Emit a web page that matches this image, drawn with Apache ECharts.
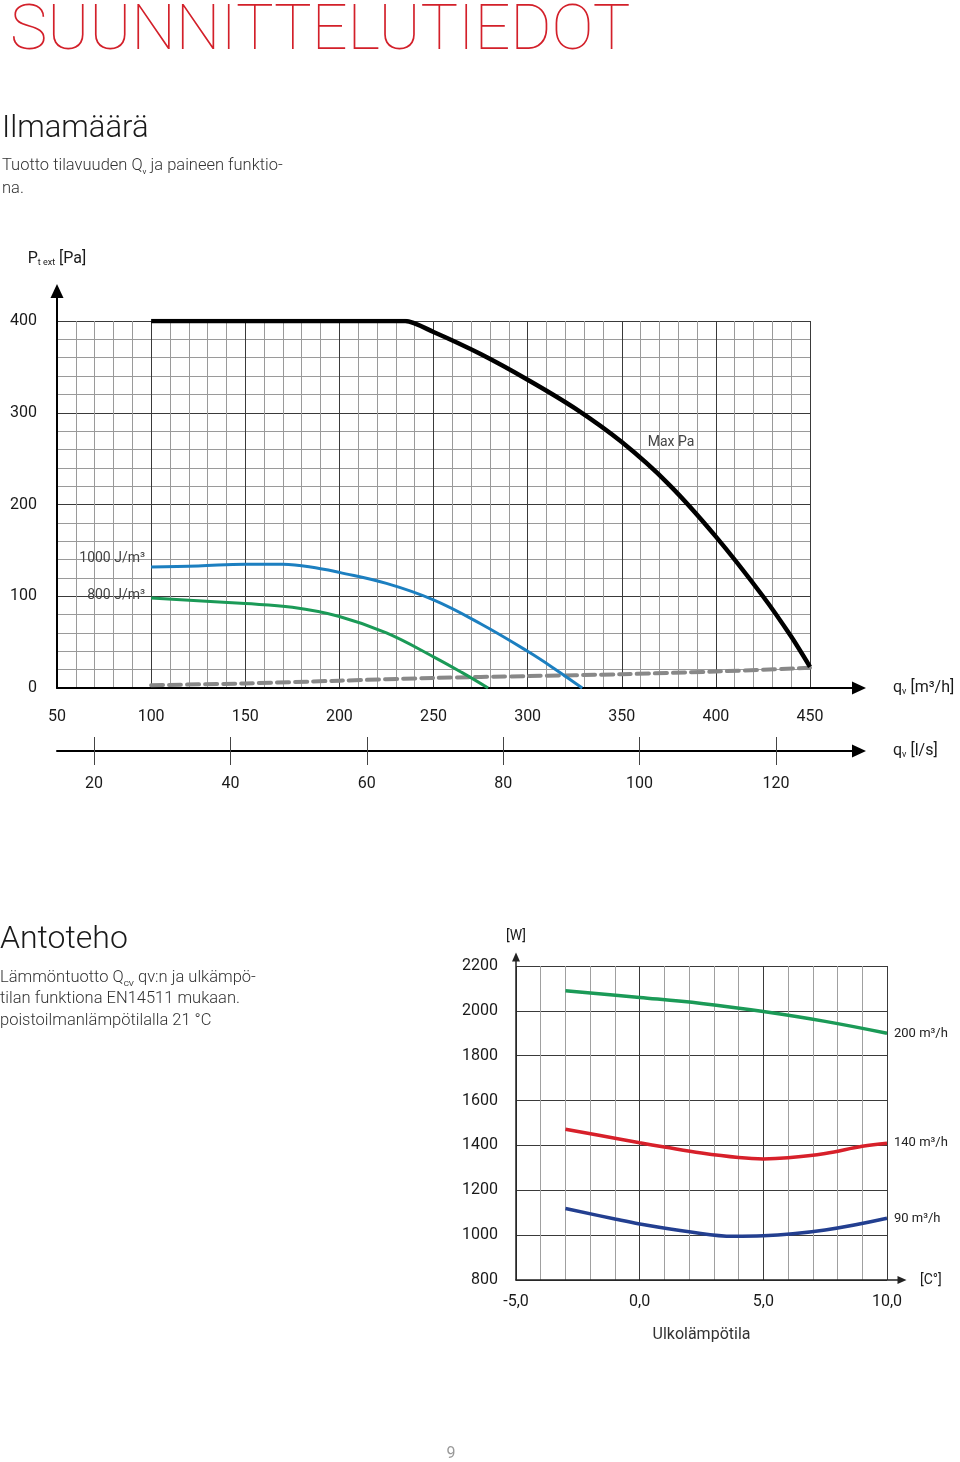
<!DOCTYPE html>
<html><head><meta charset="utf-8">
<script src="https://cdn.jsdelivr.net/npm/echarts@6/dist/echarts.min.js"></script>
<style>html,body{margin:0;padding:0;background:#fff}#c{width:960px;height:1462px}</style>
</head><body><div id="c"></div>
<script>
// ---- Ilmamäärä (q_v m³/h vs. P_t ext Pa) ----
const maxPaQ   = [100, 235, 250, 275, 300, 325, 350, 375, 400, 425, 440, 450];
const maxPaP   = [400, 400, 388, 364, 336, 305, 268, 222, 165, 100, 56, 23];
const sfp1000Q = [100, 125, 150, 170, 190, 200, 225, 250, 275, 300, 315, 329];
const sfp1000P = [132, 133, 135, 135, 130, 126, 114, 96, 70, 40, 20, 0];
const sfp800Q  = [100, 150, 175, 200, 225, 250, 265, 279];
const sfp800P  = [98, 92, 88, 78, 60, 34, 17, 0];
const minQ     = [100, 150, 200, 250, 300, 350, 400, 450];
const minP     = [3, 5, 8, 11, 13, 15, 18, 22];
const lsTicks  = [20, 40, 60, 80, 100, 120];
const seriesLabels1 = ['Max Pa', '1000 J/m³', '800 J/m³'];

// ---- Antoteho (outdoor temp °C vs. W) ----
const t200 = [-3, 0, 2.5, 5, 7.5, 10];
const w200 = [2090, 2060, 2033, 1997, 1953, 1900];
const t140 = [-3, -1, 0, 1, 2.5, 4, 5, 6, 7.5, 9, 10];
const w140 = [1472, 1432, 1412, 1393, 1366, 1346, 1340, 1345, 1364, 1396, 1410];
const t90  = [-3, -1, 0, 2, 3.8, 5, 7.5, 10];
const w90  = [1119, 1072, 1050, 1015, 995, 997, 1023, 1075];
const seriesLabels2 = ['200 m³/h', '140 m³/h', '90 m³/h'];

const F = 'Roboto, "Noto Sans", "DejaVu Sans", sans-serif';
const pairs = (xs, ys) => xs.map((x, i) => [x, ys[i]]);
const lab = { fontFamily: F, fontSize: 16, color: '#1a1a1a' };
const subRich = { sub: { fontFamily: F, fontSize: 9, color: '#1a1a1a', verticalAlign: 'bottom', lineHeight: 12 } };
const plain = v => String(v);

const chart = echarts.init(document.getElementById('c'), null, { renderer: 'canvas' });

function withLabel(data, idx, label) {
  return data.map((d, i) => i === idx ? { value: d, label: Object.assign({ show: true }, label) } : d);
}

const option = {
  animation: false,
  backgroundColor: '#fff',
  textStyle: { fontFamily: F },
  graphic: [
    { type: 'text', x: 10, y: 33, style: { text: 'SUUNNITTELUTIEDOT', fontFamily: F, fontSize: 63, fontWeight: 100, fill: '#d3202a', verticalAlign: 'middle' } },
    { type: 'text', x: 2, y: 129, style: { text: 'Ilmamäärä', fontFamily: F, fontSize: 31, fontWeight: 300, fill: '#1a1a1a', verticalAlign: 'middle' } },
    { type: 'text', x: 2, y: 166, style: { text: 'Tuotto tilavuuden Q{s|v} ja paineen funktio-', fontFamily: F, fontSize: 16.5, fontWeight: 300, fill: '#333', verticalAlign: 'middle', lineHeight: 20,
        rich: { s: { fontFamily: F, fontSize: 8, fill: '#333', verticalAlign: 'bottom', lineHeight: 11 } } } },
    { type: 'text', x: 2, y: 189, style: { text: 'na.', fontFamily: F, fontSize: 16.5, fontWeight: 300, fill: '#333', verticalAlign: 'middle' } },
    { type: 'text', x: 0, y: 940, style: { text: 'Antoteho', fontFamily: F, fontSize: 32, fontWeight: 300, fill: '#1a1a1a', verticalAlign: 'middle' } },
    { type: 'text', x: 0, y: 978, style: { text: 'Lämmöntuotto Q{s|CV} qv:n ja ulkämpö-', fontFamily: F, fontSize: 16.5, fontWeight: 300, fill: '#333', verticalAlign: 'middle', lineHeight: 20,
        rich: { s: { fontFamily: F, fontSize: 8, fill: '#333', verticalAlign: 'bottom', lineHeight: 11 } } } },
    { type: 'text', x: 0, y: 999, style: { text: 'tilan funktiona EN14511 mukaan.', fontFamily: F, fontSize: 16.5, fontWeight: 300, fill: '#333', verticalAlign: 'middle' } },
    { type: 'text', x: 0, y: 1021, style: { text: 'poistoilmanlämpötilalla 21 °C', fontFamily: F, fontSize: 16.5, fontWeight: 300, fill: '#333', verticalAlign: 'middle' } },
    { type: 'text', x: 451, y: 1454, style: { text: '9', fontFamily: F, fontSize: 16, fill: '#999', align: 'center', verticalAlign: 'middle' } }
  ],
  grid: [
    { left: 57, top: 321, width: 753, height: 367 },
    { left: 57, top: 291, width: 802, height: 397 },
    { left: 516, top: 966, width: 371, height: 314 },
    { left: 516, top: 957, width: 386, height: 323 }
  ],
  xAxis: [
    { gridIndex: 0, type: 'value', min: 50, max: 450, interval: 50, position: 'bottom',
      axisLine: { show: false, onZero: false }, axisTick: { show: false },
      axisLabel: Object.assign({ margin: 21, formatter: plain }, lab),
      splitLine: { show: true, lineStyle: { color: '#3a3a3a', width: 1 } },
      minorTick: { show: false, splitNumber: 5 },
      minorSplitLine: { show: true, lineStyle: { color: '#9a9a9a', width: 1 } } },
    { gridIndex: 1, type: 'value', min: 0, max: 1, position: 'bottom',
      axisLine: { show: true, onZero: false, symbol: ['none', 'triangle'], symbolSize: [13, 14], lineStyle: { color: '#000', width: 2 } },
      axisTick: { show: false }, axisLabel: { show: false }, splitLine: { show: false },
      name: 'q{sub|v} [m³/h]', nameLocation: 'end', nameGap: 34,
      nameTextStyle: Object.assign({ rich: subRich }, lab) },
    { gridIndex: 1, type: 'value', min: 14.57, max: 132.17, position: 'bottom', offset: 63,
      axisLine: { show: true, onZero: false, symbol: ['none', 'triangle'], symbolSize: [13, 14], lineStyle: { color: '#000', width: 2 } },
      axisTick: { show: true, customValues: lsTicks, length: 14, lineStyle: { color: '#444', width: 1 } },
      axisLabel: Object.assign({ margin: 25, customValues: lsTicks, formatter: plain }, lab),
      splitLine: { show: false },
      name: 'q{sub|v} [l/s]', nameLocation: 'end', nameGap: 34,
      nameTextStyle: Object.assign({ rich: subRich }, lab) },
    { gridIndex: 1, type: 'value', min: 14.57, max: 132.17, position: 'bottom', offset: 63,
      axisLine: { show: false, onZero: false },
      axisTick: { show: true, inside: true, customValues: lsTicks, length: 14, lineStyle: { color: '#444', width: 1 } },
      axisLabel: { show: false }, splitLine: { show: false } },
    { gridIndex: 2, type: 'value', min: -5, max: 10, interval: 5, position: 'bottom',
      axisLine: { show: false, onZero: false }, axisTick: { show: false },
      axisLabel: Object.assign({ margin: 14, formatter: v => v.toFixed(1).replace('.', ',') }, lab),
      splitLine: { show: true, lineStyle: { color: '#3a3a3a', width: 1 } },
      minorTick: { show: false, splitNumber: 5 },
      minorSplitLine: { show: true, lineStyle: { color: '#a0a0a0', width: 1 } },
      name: 'Ulkolämpötila', nameLocation: 'middle', nameGap: 47,
      nameTextStyle: { fontFamily: F, fontSize: 16, color: '#333' } },
    { gridIndex: 3, type: 'value', min: 0, max: 1, position: 'bottom',
      axisLine: { show: true, onZero: false, symbol: ['none', 'triangle'], symbolSize: [8, 9], lineStyle: { color: '#222', width: 1.5 } },
      axisTick: { show: false }, axisLabel: { show: false }, splitLine: { show: false },
      name: '[C°]', nameLocation: 'end', nameGap: 18,
      nameTextStyle: { fontFamily: F, fontSize: 14, color: '#1a1a1a' } }
  ],
  yAxis: [
    { gridIndex: 0, type: 'value', min: 0, max: 400, interval: 100,
      axisLine: { show: false, onZero: false }, axisTick: { show: false },
      axisLabel: Object.assign({ margin: 20, formatter: plain }, lab),
      splitLine: { show: true, lineStyle: { color: '#3a3a3a', width: 1 } },
      minorTick: { show: false, splitNumber: 5 },
      minorSplitLine: { show: true, lineStyle: { color: '#9a9a9a', width: 1 } } },
    { gridIndex: 1, type: 'value', min: 0, max: 1,
      axisLine: { show: true, onZero: false, symbol: ['none', 'triangle'], symbolSize: [13, 14], lineStyle: { color: '#000', width: 2 } },
      axisTick: { show: false }, axisLabel: { show: false }, splitLine: { show: false },
      name: 'P{sub|t ext} [Pa]', nameLocation: 'end', nameGap: 24,
      nameTextStyle: Object.assign({ rich: subRich }, lab) },
    { gridIndex: 2, type: 'value', min: 800, max: 2200, interval: 200,
      axisLine: { show: false, onZero: false }, axisTick: { show: false },
      axisLabel: Object.assign({ margin: 18, formatter: plain }, lab),
      splitLine: { show: true, lineStyle: { color: '#3a3a3a', width: 1 } } },
    { gridIndex: 3, type: 'value', min: 0, max: 1,
      axisLine: { show: true, onZero: false, symbol: ['none', 'triangle'], symbolSize: [8, 9], lineStyle: { color: '#222', width: 1.5 } },
      axisTick: { show: false }, axisLabel: { show: false }, splitLine: { show: false },
      name: '[W]', nameLocation: 'end', nameGap: 14,
      nameTextStyle: { fontFamily: F, fontSize: 14, color: '#1a1a1a' } }
  ],
  series: [
    { type: 'line', xAxisIndex: 0, yAxisIndex: 0, data: pairs(minQ, minP), symbol: 'none',
      smooth: 0.3, lineStyle: { color: '#888', width: 4, type: [12, 6], cap: 'round' }, z: 3 },
    { type: 'line', xAxisIndex: 0, yAxisIndex: 0,
      data: withLabel(pairs(sfp800Q, sfp800P), 0, { position: 'left', distance: 6, offset: [0, -3], formatter: seriesLabels1[2], fontFamily: F, fontSize: 14, color: '#444' }),
      symbol: 'circle', symbolSize: 0, showSymbol: true, smooth: 0.4,
      lineStyle: { color: '#1b9a57', width: 3 }, z: 4 },
    { type: 'line', xAxisIndex: 0, yAxisIndex: 0,
      data: withLabel(pairs(sfp1000Q, sfp1000P), 0, { position: 'left', distance: 6, offset: [0, -8], formatter: seriesLabels1[1], fontFamily: F, fontSize: 14, color: '#444' }),
      symbol: 'circle', symbolSize: 0, showSymbol: true, smooth: 0.4,
      lineStyle: { color: '#1c7fc0', width: 3 }, z: 4 },
    { type: 'line', xAxisIndex: 0, yAxisIndex: 0,
      data: withLabel(pairs(maxPaQ, maxPaP), 6, { position: 'right', distance: 26, offset: [0, 0], formatter: seriesLabels1[0], fontFamily: F, fontSize: 14, color: '#444' }),
      symbol: 'circle', symbolSize: 0, showSymbol: true, smooth: 0.25,
      lineStyle: { color: '#000', width: 4.5 }, z: 5 },
    { type: 'line', xAxisIndex: 4, yAxisIndex: 2, data: pairs(t200, w200), symbol: 'none', smooth: 0.4,
      lineStyle: { color: '#1b9a57', width: 3.5 },
      endLabel: { show: true, formatter: seriesLabels2[0], distance: 7, fontFamily: F, fontSize: 13, color: '#222' } },
    { type: 'line', xAxisIndex: 4, yAxisIndex: 2, data: pairs(t140, w140), symbol: 'none', smooth: 0.4,
      lineStyle: { color: '#d7202a', width: 3.5 },
      endLabel: { show: true, formatter: seriesLabels2[1], distance: 7, fontFamily: F, fontSize: 13, color: '#222' } },
    { type: 'line', xAxisIndex: 4, yAxisIndex: 2, data: pairs(t90, w90), symbol: 'none', smooth: 0.4,
      lineStyle: { color: '#233f90', width: 3.5 },
      endLabel: { show: true, formatter: seriesLabels2[2], distance: 7, fontFamily: F, fontSize: 13, color: '#222' } }
  ]
};
chart.setOption(option);
</script>
</body></html>
